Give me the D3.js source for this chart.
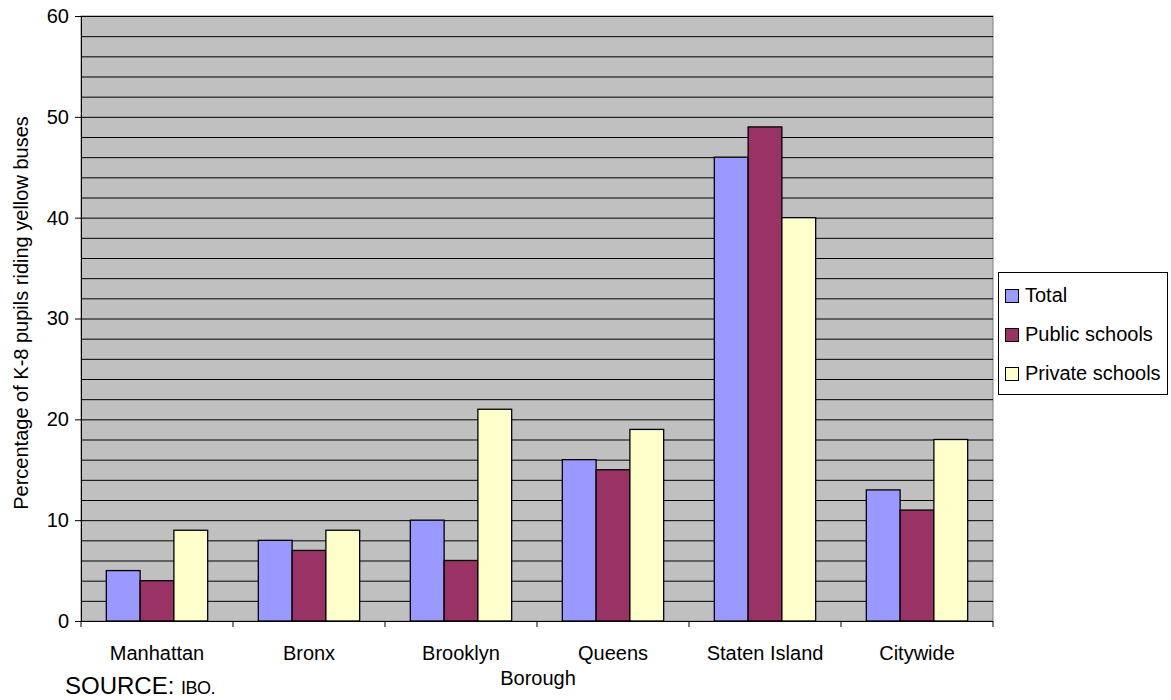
<!DOCTYPE html>
<html>
<head>
<meta charset="utf-8">
<script src="https://cdn.jsdelivr.net/npm/d3@7.9.0/dist/d3.min.js"></script>
<style>
  body { margin: 0; background: #fff; }
  svg { font-family: Arial, "Liberation Sans", sans-serif; }
</style>
</head>
<body>
<svg id="chart" width="1171" height="700"></svg>
<script>
// data
const boroughs = ["Manhattan", "Bronx", "Brooklyn", "Queens", "Staten Island", "Citywide"];
const seriesNames = ["Total", "Public schools", "Private schools"];
const totalValues = [5, 8, 10, 16, 46, 13];
const publicValues = [4, 7, 6, 15, 49, 11];
const privateValues = [9, 9, 21, 19, 40, 18];
const yTicks = [0, 10, 20, 30, 40, 50, 60];
const colors = ["#9999ff", "#993366", "#ffffcc"];

const allSeries = [totalValues, publicValues, privateValues];

const svg = d3.select("#chart");
const plot = { left: 81, top: 16, right: 993, bottom: 621 };
const fontFamily = "Arial, 'Liberation Sans', sans-serif";

const x = d3.scaleBand()
    .domain(boroughs)
    .range([plot.left, plot.right])
    .paddingInner(0)
    .paddingOuter(0);

const y = d3.scaleLinear()
    .domain([0, 60])
    .range([plot.bottom, plot.top]);

// plot background
svg.append("rect")
    .attr("x", plot.left)
    .attr("y", plot.top)
    .attr("width", plot.right - plot.left)
    .attr("height", plot.bottom - plot.top)
    .attr("fill", "#c0c0c0")
    .attr("stroke", "#808080");

// gridlines every 2 units
svg.append("g")
    .selectAll("line")
    .data(d3.range(2, 61, 2))
    .enter()
    .append("line")
    .attr("x1", plot.left)
    .attr("x2", plot.right)
    .attr("y1", d => y(d) + 0.5)
    .attr("y2", d => y(d) + 0.5)
    .attr("stroke", "#000")
    .attr("stroke-width", 1);

// bars
const bw = x.bandwidth();
const barW = bw / 4.5;
const groupOffset = (bw - barW * 3) / 2;

boroughs.forEach((b, i) => {
    allSeries.forEach((vals, s) => {
        svg.append("rect")
            .attr("x", x(b) + groupOffset + s * barW)
            .attr("y", y(vals[i]))
            .attr("width", barW)
            .attr("height", y(0) - y(vals[i]))
            .attr("fill", colors[s])
            .attr("stroke", "#000")
            .attr("stroke-width", 1.3);
    });
});

// y axis
const yAxis = svg.append("g")
    .attr("transform", `translate(${plot.left},0)`)
    .call(d3.axisLeft(y).tickValues(yTicks).tickSize(6).tickPadding(6).tickSizeOuter(0));
yAxis.select(".domain").attr("stroke", "#000");
yAxis.selectAll("text").attr("font-size", 20).attr("fill", "#000")
    .attr("font-family", fontFamily);

// x axis: ticks at category boundaries
const xAxisG = svg.append("g");
xAxisG.append("line")
    .attr("x1", plot.left).attr("x2", plot.right)
    .attr("y1", plot.bottom + 0.5).attr("y2", plot.bottom + 0.5)
    .attr("stroke", "#000");
xAxisG.selectAll("line.tick")
    .data(d3.range(boroughs.length + 1))
    .enter()
    .append("line")
    .attr("class", "tick")
    .attr("x1", d => plot.left + d * bw)
    .attr("x2", d => plot.left + d * bw)
    .attr("y1", plot.bottom)
    .attr("y2", plot.bottom + 6)
    .attr("stroke", "#000");
xAxisG.selectAll("text")
    .data(boroughs)
    .enter()
    .append("text")
    .attr("x", d => x(d) + bw / 2)
    .attr("y", 660)
    .attr("text-anchor", "middle")
    .attr("font-size", 20)
    .text(d => d);

// axis titles
svg.append("text")
    .attr("x", 538)
    .attr("y", 685)
    .attr("text-anchor", "middle")
    .attr("font-size", 20)
    .text("Borough");

svg.append("text")
    .attr("transform", "translate(28, 313) rotate(-90)")
    .attr("text-anchor", "middle")
    .attr("font-size", 20)
    .text("Percentage of K-8 pupils riding yellow buses");

// source note
const src = svg.append("text")
    .attr("x", 65)
    .attr("y", 694)
    .attr("font-size", 24);
src.append("tspan").text("SOURCE: ");
src.append("tspan").attr("font-size", 18).attr("letter-spacing", -0.5).text("IBO.");

// legend
const legend = svg.append("g").attr("transform", "translate(998,272)");
legend.append("rect")
    .attr("x", 0.5).attr("y", 0.5)
    .attr("width", 169).attr("height", 122)
    .attr("fill", "#fff")
    .attr("stroke", "#000");
seriesNames.forEach((name, i) => {
    const row = legend.append("g").attr("transform", `translate(0, ${30 + i * 39})`);
    row.append("rect")
        .attr("x", 7.5).attr("y", -12.5)
        .attr("width", 13).attr("height", 13)
        .attr("fill", colors[i])
        .attr("stroke", "#000");
    row.append("text")
        .attr("x", 27)
        .attr("y", 0)
        .attr("font-size", 20)
        .text(name);
});
</script>
</body>
</html>
